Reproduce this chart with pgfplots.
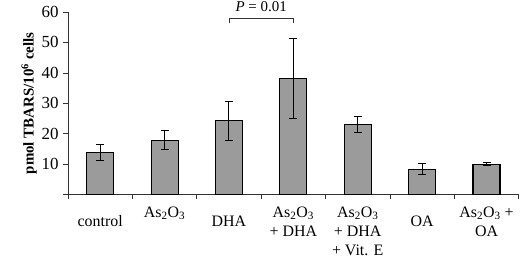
\documentclass[border=0pt]{standalone}
\usepackage{pgfplots}
\pgfplotsset{compat=1.18}
\usepackage{fontspec}
\setmainfont{Liberation Serif}
\definecolor{barfill}{RGB}{155,155,155}
\begin{document}
\begin{tikzpicture}
\begin{axis}[
  scale only axis,
  width=450.7bp, height=182.6bp,
  xmin=-0.5, xmax=6.5, ymin=0, ymax=60,
  axis x line=bottom, axis y line=left,
  axis line style={-, line width=0.6bp, black!80},
  ybar, bar width=27bp,
  xtick={0,1,2,3,4,5,6},
  xticklabels={
    \rule{0pt}{20bp}control,
    As\textsubscript{2}O\textsubscript{3},
    \rule{0pt}{20bp}DHA,
    As\textsubscript{2}O\textsubscript{3}\\+ DHA,
    As\textsubscript{2}O\textsubscript{3}\\+ DHA\\+ Vit. E,
    \rule{0pt}{20bp}OA,
    As\textsubscript{2}O\textsubscript{3} +\\OA},
  major x tick style={draw=none},
  minor xtick={-0.5,0.5,1.5,2.5,3.5,4.5,5.5,6.5},
  minor x tick style={line width=0.6bp, black!80},
  minor tick length=4bp,
  ytick={0,10,20,30,40,50,60},
  yticklabels={,10,20,30,40,50,60},
  major y tick style={line width=0.6bp, black!80},
  major tick length=5bp,
  tick align=outside,
  /pgf/number format/assume math mode=true,
  xticklabel style={font=\fontsize{16}{19}\selectfont, align=center, anchor=north, yshift=-5bp, inner sep=2bp, text depth=0pt},
  yticklabel style={font=\fontsize{17}{20}\selectfont, xshift=-1bp},
  ylabel={\textbf{pmol TBARS/10\textsuperscript{6} cells}},
  ylabel style={font=\fontsize{15}{18}\selectfont, yshift=-2bp},
  clip=false,
]
\addplot[fill=barfill, draw=black, line width=1.1bp,
  error bars/.cd, y dir=both, y explicit,
  error bar style={line width=1bp, black},
  error mark options={rotate=90, mark size=4bp, line width=1bp, black}]
  coordinates {
  (0,13.8) +- (0,2.7)
  (1,17.9) +- (0,3.2)
  (2,24.2) +- (0,6.5)
  (3,38.2) +- (0,13.1)
  (4,23.1) +- (0,2.7)
  (5,8.3) +- (0,1.8)
  (6,10.0) +- (0,0.6)
  };
\draw[line width=0.7bp, black!80] (axis cs:2,56.3) -- (axis cs:2,57.9) -- (axis cs:3,57.9) -- (axis cs:3,56.3);
\node[font=\fontsize{15}{18}\selectfont] at (axis cs:2.5,61.6) {\textit{P} = 0.01};
\coordinate (bl) at (rel axis cs:0,0);
\coordinate (tr) at (rel axis cs:1,1);
\end{axis}
\pgfresetboundingbox
\path ([xshift=-68bp,yshift=-63.4bp]bl) rectangle ([xshift=1.3bp,yshift=12bp]tr);
\end{tikzpicture}
\end{document}
